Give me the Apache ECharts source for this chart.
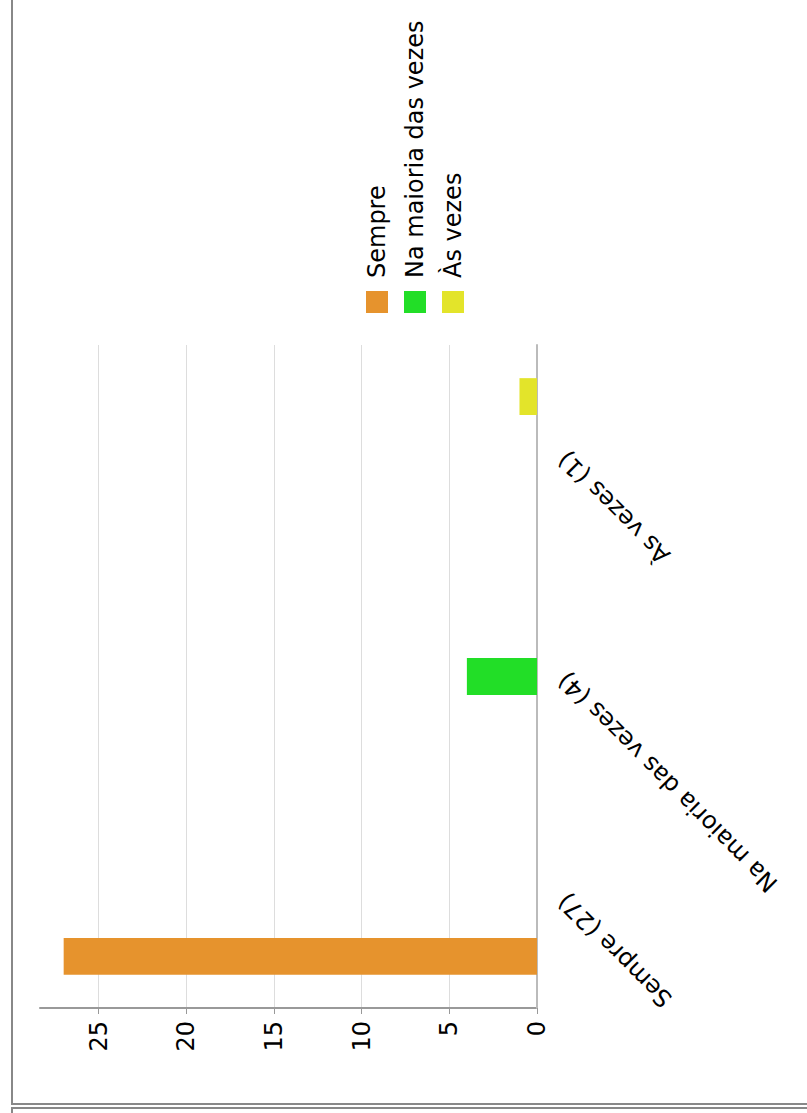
<!DOCTYPE html>
<html>
<head>
<meta charset="utf-8">
<script src="https://cdn.jsdelivr.net/npm/echarts@6/dist/echarts.min.js"></script>
<style>
  html, body { margin: 0; padding: 0; width: 807px; height: 1113px; overflow: hidden; background: #fff; }
  #chart { position: absolute; left: 0; top: 0; width: 1113px; height: 807px;
           transform-origin: 0 0; transform: translate(0, 1113px) rotate(-90deg); }
  .ln { position: absolute; background: #888; }
</style>
</head>
<body>
<div id="chart"></div>
<div class="ln" style="left:11px; top:0; width:2px; height:1105px;"></div>
<div class="ln" style="left:11px; top:1103px; width:796px; height:2px;"></div>
<div class="ln" style="left:11px; top:1107px; width:796px; height:2px;"></div>
<div class="ln" style="left:11px; top:1107px; width:2px; height:6px;"></div>
<script>
const categories = ['Sempre (27)', 'Na maioria das vezes (4)', 'Às vezes (1)'];
const seriesNames = ['Sempre', 'Na maioria das vezes', 'Às vezes'];
const sempreValues = [27, 0, 0];
const maioriaValues = [0, 4, 0];
const asVezesValues = [0, 0, 1];
const valueTicks = [0, 5, 10, 15, 20, 25];
const valueMax = 28.35;
const colors = ['#e6932d', '#22de27', '#e3e42a'];

const font = 'DejaVu Sans';
const chart = echarts.init(document.getElementById('chart'), null, { renderer: 'svg', width: 1113, height: 807 });
const seriesData = [sempreValues, maioriaValues, asVezesValues];
chart.setOption({
  animation: false,
  textStyle: { fontFamily: font },
  grid: { left: 105, right: 345, top: 40, bottom: 270, containLabel: false },
  legend: {
    orient: 'vertical', left: 795, top: 360,
    itemWidth: 22, itemHeight: 22, itemGap: 14, icon: 'rect',
    data: seriesNames,
    textStyle: { fontFamily: font, fontSize: 24, color: '#000', lineHeight: 22, padding: [0, 0, 0, 8] }
  },
  xAxis: {
    type: 'category', data: categories,
    axisLine: { lineStyle: { color: '#bbb', width: 2 } },
    axisTick: { alignWithLabel: true, length: 8, lineStyle: { color: '#999' } },
    axisLabel: { rotate: 45, fontSize: 24, color: '#000', margin: 25, fontFamily: font, interval: 0 }
  },
  yAxis: {
    type: 'value', min: 0, max: valueMax, interval: 5,
    axisLine: { show: true, lineStyle: { color: '#999', width: 2 } },
    axisTick: { show: true, length: 6, lineStyle: { color: '#999' }, customValues: valueTicks },
    axisLabel: { fontSize: 24, color: '#000', margin: 13, fontFamily: font, customValues: valueTicks },
    splitLine: { show: true, lineStyle: { color: '#ddd', width: 1 } }
  },
  series: seriesNames.map((name, i) => ({
    name: name, type: 'bar', data: seriesData[i],
    barGap: '60%', barCategoryGap: '30%',
    itemStyle: { color: colors[i] }
  }))
});
</script>
</body>
</html>
